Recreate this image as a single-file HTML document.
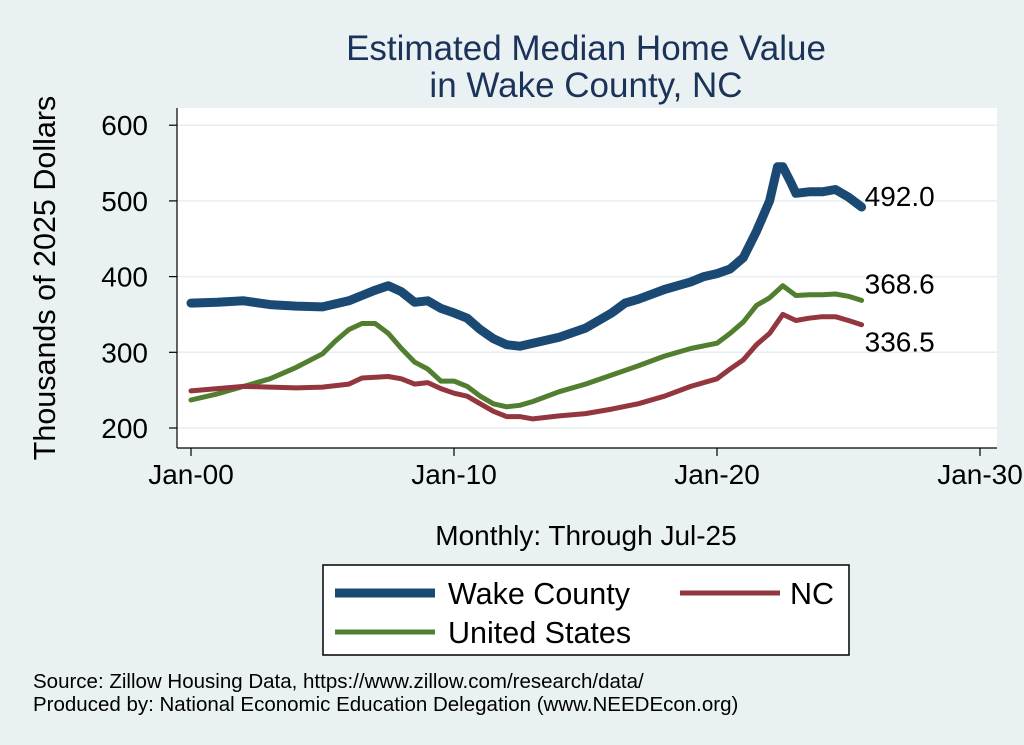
<!DOCTYPE html>
<html><head><meta charset="utf-8"><style>
body{margin:0;background:#eaf1f3;}
svg{display:block;font-family:"Liberation Sans",sans-serif;}
</style></head><body>
<svg id="chart" width="1024" height="745">
<rect x="0" y="0" width="1024" height="745" fill="#eaf1f3"/>
<rect x="177" y="108" width="820" height="340" fill="#ffffff"/>
<text x="586" y="60" text-anchor="middle" font-size="35" fill="#1c3359">Estimated Median Home Value</text>
<text x="586" y="97" text-anchor="middle" font-size="35" fill="#1c3359">in Wake County, NC</text>
<text transform="translate(55,278) rotate(-90)" text-anchor="middle" font-size="30.5" fill="#000">Thousands of 2025 Dollars</text>
<text x="586" y="545" text-anchor="middle" font-size="28" fill="#000">Monthly: Through Jul-25</text>
<g id="grid"></g><g id="axes"></g><g id="series"></g>
<rect x="323" y="565" width="526" height="90" fill="#fff" stroke="#000" stroke-width="1.5"/>
<g><line x1="335" y1="593" x2="435" y2="593" stroke="#1a4a74" stroke-width="9"/><text x="448" y="604" font-size="30.5">Wake County</text></g>
<g><line x1="680" y1="593" x2="780" y2="593" stroke="#93363e" stroke-width="5"/><text x="790" y="604" font-size="30.5">NC</text></g>
<g><line x1="335" y1="632" x2="435" y2="632" stroke="#527f2f" stroke-width="5"/><text x="448" y="643" font-size="30.5">United States</text></g>
<text x="33" y="688" font-size="20.5">Source: Zillow Housing Data, https://www.zillow.com/research/data/</text>
<text x="33" y="711" font-size="20.5">Produced by: National Economic Education Delegation (www.NEEDEcon.org)</text>
</svg>
<script>
const yTicks=[200,300,400,500,600];
const xTicks=[2000,2010,2020,2030];
const xTickLabels=["Jan-00","Jan-10","Jan-20","Jan-30"];
const years=[2000,2001,2002,2003,2004,2005,2006,2006.5,2007,2007.5,2008,2008.5,2009,2009.5,2010,2010.5,2011,2011.5,2012,2012.5,2013,2014,2015,2015.5,2016,2016.5,2017,2018,2019,2019.5,2020,2020.5,2021,2021.5,2022,2022.3,2022.5,2022.8,2023,2023.5,2024,2024.5,2025,2025.5];
const wake=[365,366,368,363,361,360,368,375,382,388,380,366,368,358,352,345,330,318,310,308,312,320,332,342,352,365,370,383,393,400,404,410,425,460,500,545,545,525,510,512,512,515,505,492];
const ncYears=[2000,2002,2003,2004,2005,2006,2006.5,2007.5,2008,2008.5,2009,2009.5,2010,2010.5,2011,2011.5,2012,2012.5,2013,2014,2015,2016,2017,2018,2019,2020,2020.5,2021,2021.5,2022,2022.5,2023,2023.5,2024,2024.5,2025,2025.5];
const nc=[249,255,254,253,254,258,266,268,265,258,260,252,246,242,232,222,215,215,212,216,219,225,232,242,255,265,278,290,310,325,350,342,345,347,347,342,336.5];
const usYears=[2000,2001,2002,2003,2004,2005,2005.5,2006,2006.5,2007,2007.5,2008,2008.5,2009,2009.5,2010,2010.5,2011,2011.5,2012,2012.5,2013,2014,2015,2016,2017,2018,2019,2020,2020.5,2021,2021.5,2022,2022.5,2023,2023.5,2024,2024.5,2025,2025.5];
const us=[237,245,255,265,280,298,315,330,338,338,325,305,287,278,262,262,255,242,232,228,230,235,248,258,270,282,295,305,312,325,340,362,372,388,375,376,376,377,374,368.6];
const NS="http://www.w3.org/2000/svg";
const X=v=>191+(v-2000)*26.3;
const Y=v=>428-(v-200)*0.757;
function mk(tag,attrs,parent){const e=document.createElementNS(NS,tag);for(const k in attrs)e.setAttribute(k,attrs[k]);parent.appendChild(e);return e;}
const grid=document.getElementById('grid'),axes=document.getElementById('axes'),ser=document.getElementById('series');
mk('line',{x1:177,y1:108,x2:177,y2:448,stroke:'#000','stroke-width':1.2},axes);
mk('line',{x1:177,y1:448,x2:997,y2:448,stroke:'#000','stroke-width':1.2},axes);
yTicks.forEach(t=>{
 const g=mk('line',{x1:177,y1:Y(t),x2:997,y2:Y(t),stroke:'#e6eef0','stroke-width':1.5},grid);
 
 
 mk('line',{x1:169,y1:Y(t),x2:177,y2:Y(t),stroke:'#000','stroke-width':1.2},axes);
 const tx=mk('text',{x:148,y:Y(t)+10,'text-anchor':'end','font-size':28},axes);
 tx.textContent=t;
 
 
});
xTicks.forEach((t,i)=>{
 mk('line',{x1:X(t),y1:448,x2:X(t),y2:456,stroke:'#000','stroke-width':1.2},axes);
 const tx=mk('text',{x:X(t),y:484,'text-anchor':'middle','font-size':28},axes);
 tx.textContent=xTickLabels[i];
 
 
});
function line(xs,ys,color,w,name){
 const d=xs.map((x,i)=>(i?'L':'M')+X(x).toFixed(1)+','+Y(ys[i]).toFixed(1)).join(' ');
 const p=mk('path',{d:d,fill:'none',stroke:color,'stroke-width':w,'stroke-linejoin':'round','stroke-linecap':'round'},ser);
 
 
 return [X(xs[xs.length-1]),Y(ys[ys.length-1])];
}
const u=line(usYears,us,'#527f2f',5,'series-united-states');
const n=line(ncYears,nc,'#93363e',5,'series-nc');
const w=line(years,wake,'#1a4a74',9,'series-wake-county');
[[w,wake[wake.length-1],-1],[u,us[us.length-1],-7],[n,nc[nc.length-1],27]].forEach(([p,v,dy])=>{
 const tx=mk('text',{x:p[0]+3,y:p[1]+dy,'font-size':28},ser);
 tx.textContent=v.toFixed(1);
 
 
});
</script>
</body></html>
